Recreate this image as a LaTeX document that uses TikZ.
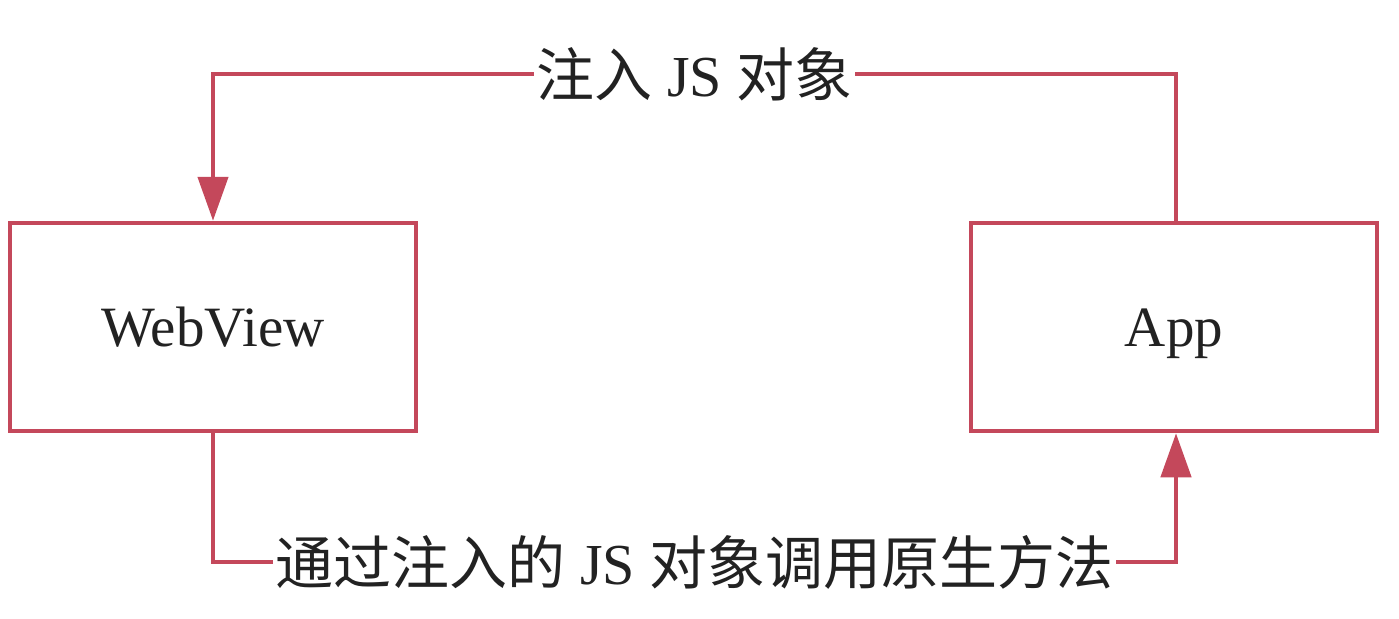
\documentclass[tikz,border=0pt]{standalone}
\usepackage{fontspec}
\setmainfont{Liberation Serif}
\newfontfamily\cjk{Noto Sans CJK SC}
\usetikzlibrary{arrows.meta}
\definecolor{linered}{HTML}{C4485B}
\definecolor{txt}{HTML}{222222}
\begin{document}
\begin{tikzpicture}[x=1pt,y=-1pt,
  box/.style={draw=linered,line width=4.5pt,fill=white,minimum width=406pt,minimum height=208pt,inner sep=0pt,text height=46pt,text depth=8pt,text=txt,font=\fontsize{57}{60}\selectfont},
  conn/.style={draw=linered,line width=4.5pt},
  tip/.style={-{Triangle[length=44pt,width=30pt]}},
  lbl/.style={fill=white,inner xsep=3pt,inner ysep=2pt,text=txt,font=\fontsize{58}{62}\selectfont}]
\useasboundingbox (0,0) rectangle (1399,618);
\node[box] (webview) at (213,327) {WebView};
\node[box] (app) at (1174,327) {App};
\coordinate (t1) at (1176,74);
\coordinate (t2) at (213,74);
\coordinate (b1) at (213,562);
\coordinate (b2) at (1176,562);
\draw[conn,tip] (app.north -| t1) -- (t1) -- node[lbl] {{\cjk 注入} JS {\cjk 对象}} (t2) -- (webview.north);
\draw[conn,tip] (webview.south) -- (b1) -- node[lbl] {{\cjk 通过注入的} JS {\cjk 对象调用原生方法}} (b2) -- (app.south -| b2);
\end{tikzpicture}
\end{document}
